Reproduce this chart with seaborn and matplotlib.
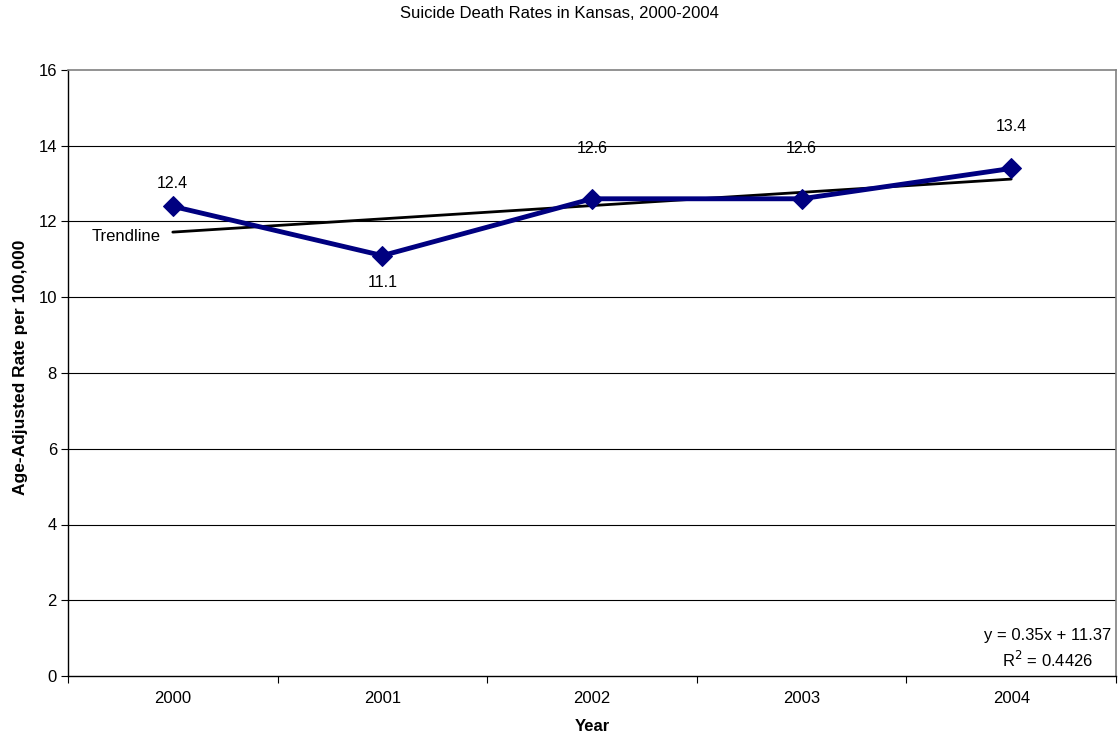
import matplotlib
matplotlib.use("Agg")
import matplotlib.pyplot as plt
import seaborn as sns
import numpy as np
import pandas as pd
from matplotlib.ticker import FixedLocator, NullFormatter

years = ["2000", "2001", "2002", "2003", "2004"]
rates = [12.4, 11.1, 12.6, 12.6, 13.4]
trend_slope = 0.35
trend_intercept = 11.37
r_squared = 0.4426
y_ticks = [0, 2, 4, 6, 8, 10, 12, 14, 16]

# vertical offset of each value label from its point (data units)
label_offsets = [0.6, -0.72, 1.34, 1.34, 1.1]

sns.set_theme(style="white")
plt.rcParams["font.family"] = ["Liberation Sans", "DejaVu Sans"]
plt.rcParams["text.color"] = "black"
plt.rcParams["axes.labelcolor"] = "black"
plt.rcParams["xtick.color"] = "black"
plt.rcParams["ytick.color"] = "black"

df = pd.DataFrame({"Year": years, "Rate": rates, "pos": np.arange(len(years))})

fig = plt.figure(figsize=(11.19, 7.39), dpi=100)
ax = fig.add_axes([68 / 1119, 1 - 676 / 739, (1116 - 68) / 1119, (676 - 70) / 739])

# horizontal gridlines
for t in y_ticks[1:-1]:
    ax.axhline(t, color="black", lw=0.8, zorder=0)

# linear trendline over category index 1..n
xi = np.arange(1, len(years) + 1)
trend = trend_slope * xi + trend_intercept
sns.lineplot(x=df["pos"], y=trend, ax=ax, color="black", lw=2, zorder=2)

sns.lineplot(data=df, x="pos", y="Rate", ax=ax, color="#000080", lw=3.5,
             marker="D", markersize=10, markeredgecolor="#000080", zorder=3)

for p, v, off in zip(df["pos"], df["Rate"], label_offsets):
    ax.text(p, v + off, f"{v:.1f}", ha="center", va="center", fontsize=11.5)

ax.text(-0.06, trend[0] - 0.12, "Trendline", ha="right", va="center", fontsize=12)
ax.text(4.175, 1.08, f"y = {trend_slope:.2f}x + {trend_intercept:.2f}",
        ha="center", va="center", fontsize=12)
ax.text(4.175, 0.42, f"R$^2$ = {r_squared:.4f}", ha="center", va="center", fontsize=12)

ax.set_xlim(-0.5, len(years) - 0.5)
ax.set_ylim(0, 16)
ax.set_xticks(df["pos"])
ax.set_xticklabels(years, fontsize=12)
ax.xaxis.set_minor_locator(FixedLocator(np.arange(-0.5, len(years), 1.0)))
ax.xaxis.set_minor_formatter(NullFormatter())
ax.tick_params(axis="x", which="major", length=0, pad=11)
ax.tick_params(axis="x", which="minor", length=5, width=0.8, color="black", direction="out", bottom=True)
ax.set_yticks(y_ticks)
ax.set_yticklabels([str(t) for t in y_ticks], fontsize=12)
ax.tick_params(axis="y", length=5, width=0.8, color="black", direction="out", left=True, pad=3)

for s in ["left", "bottom"]:
    ax.spines[s].set_color("black")
    ax.spines[s].set_linewidth(1)
for s in ["top", "right"]:
    ax.spines[s].set_color("#808080")
    ax.spines[s].set_linewidth(1.2)

ax.set_xlabel("Year", fontsize=12, fontweight="bold")
ax.xaxis.set_label_coords(0.5, -(719 - 676) / 606)
ax.set_ylabel("Age-Adjusted Rate per 100,000", fontsize=12.5, fontweight="bold")
ax.yaxis.set_label_coords(-(68 - 28) / 1048, (676 - 367) / 606)
fig.text(0.5, 1 - 14 / 739, "Suicide Death Rates in Kansas, 2000-2004",
         ha="center", va="center", fontsize=12)

fig.savefig("out.png", dpi=100, facecolor="white")
